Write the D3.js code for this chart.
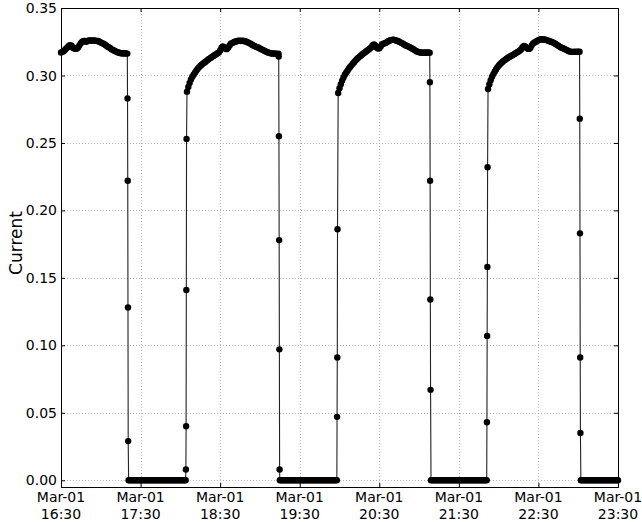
<!DOCTYPE html>
<html>
<head>
<meta charset="utf-8">
<script src="https://cdn.jsdelivr.net/npm/d3@7"></script>
<style>
  body { margin: 0; background: #fff; }
  svg { display: block; }
  text { font-family: "DejaVu Sans", sans-serif; fill: #000; }
</style>
</head>
<body>
<svg id="chart" width="642" height="522"></svg>
<script>
// Motor current, sampled once a minute; switch-over readings are 10 s apart.
const on1 = [0.317, 0.3175, 0.318, 0.319, 0.320, 0.321, 0.322, 0.3225, 0.322, 0.3205,
  0.320, 0.3198, 0.320, 0.321, 0.3225, 0.324, 0.325, 0.3255, 0.3255, 0.325,
  0.3255, 0.326, 0.326, 0.3258, 0.326, 0.326, 0.3258, 0.3255, 0.3255, 0.325,
  0.3245, 0.324, 0.3235, 0.323, 0.3222, 0.3215, 0.321, 0.3203, 0.3195, 0.319,
  0.3185, 0.318, 0.3175, 0.317, 0.3168, 0.3165, 0.3165, 0.3163, 0.3165, 0.3163, 0.3162];
const drop1 = [0.283, 0.222, 0.128, 0.029];
const off1 = [0, 0, 0, 0, 0, 0, 0, 0, 0, 0, 0, 0, 0, 0, 0, 0, 0, 0, 0, 0, 0, 0,
  0, 0, 0, 0, 0, 0, 0, 0, 0, 0, 0, 0, 0, 0, 0, 0, 0, 0, 0, 0, 0, 0];
const rise2 = [0.008, 0.040, 0.141, 0.253];
const on2 = [0.288, 0.2915, 0.2945, 0.297, 0.299, 0.3005, 0.302, 0.3035, 0.3048, 0.306,
  0.307, 0.308, 0.3088, 0.3095, 0.3102, 0.311, 0.3118, 0.3125, 0.3132, 0.3139,
  0.3145, 0.3152, 0.3158, 0.3165, 0.317, 0.3185, 0.3205, 0.3215, 0.321, 0.3198,
  0.3195, 0.3205, 0.322, 0.3235, 0.324, 0.3245, 0.325, 0.3252, 0.3255, 0.3258,
  0.3258, 0.3255, 0.3258, 0.3255, 0.3252, 0.325, 0.3245, 0.324, 0.3235, 0.3228,
  0.3222, 0.3218, 0.3213, 0.321, 0.3205, 0.320, 0.3195, 0.319, 0.3185, 0.318,
  0.3175, 0.317, 0.3168, 0.3165, 0.3163, 0.3162, 0.3163, 0.3162, 0.316, 0.3162];
const drop2 = [0.314, 0.255, 0.178, 0.097, 0.008];
const off2 = [0, 0, 0, 0, 0, 0, 0, 0, 0, 0, 0, 0, 0, 0, 0, 0, 0, 0, 0, 0, 0, 0,
  0, 0, 0, 0, 0, 0, 0, 0, 0, 0, 0, 0, 0, 0, 0, 0, 0, 0, 0, 0, 0, 0];
const rise3 = [0.047, 0.091, 0.186];
const on3 = [0.287, 0.2905, 0.2935, 0.2962, 0.2985, 0.3005, 0.302, 0.3035, 0.305, 0.3063,
  0.3075, 0.3087, 0.3098, 0.311, 0.312, 0.313, 0.3138, 0.3147, 0.3155, 0.3163,
  0.317, 0.3178, 0.3185, 0.3192, 0.320, 0.321, 0.3225, 0.323, 0.3222, 0.3208,
  0.320, 0.3202, 0.3215, 0.323, 0.3235, 0.3238, 0.3242, 0.3248, 0.3255, 0.326,
  0.3262, 0.3265, 0.3265, 0.3262, 0.3258, 0.3255, 0.325, 0.3245, 0.324, 0.3235,
  0.3228, 0.3222, 0.3218, 0.3214, 0.321, 0.3204, 0.3198, 0.3192, 0.3186, 0.318,
  0.3176, 0.3172, 0.317, 0.3168, 0.317, 0.3168, 0.317, 0.3168, 0.317, 0.3168];
const drop3 = [0.295, 0.222, 0.134, 0.067];
const off3 = [0, 0, 0, 0, 0, 0, 0, 0, 0, 0, 0, 0, 0, 0, 0, 0, 0, 0, 0, 0, 0, 0,
  0, 0, 0, 0, 0, 0, 0, 0, 0, 0, 0, 0, 0, 0, 0, 0, 0, 0, 0, 0, 0];
const rise4 = [0.043, 0.107, 0.158, 0.232];
const on4 = [0.290, 0.2935, 0.2965, 0.299, 0.301, 0.3028, 0.3045, 0.306, 0.3072, 0.3083,
  0.3093, 0.3102, 0.311, 0.3117, 0.3124, 0.3131, 0.3137, 0.3143, 0.3148, 0.3154,
  0.316, 0.3166, 0.3172, 0.3178, 0.3185, 0.3195, 0.321, 0.3218, 0.3215, 0.3205,
  0.3198, 0.3197, 0.3205, 0.3225, 0.3238, 0.3245, 0.325, 0.3255, 0.3262, 0.3265,
  0.3268, 0.3268, 0.3265, 0.3266, 0.3262, 0.326, 0.3255, 0.3252, 0.3248, 0.3245,
  0.324, 0.3233, 0.3227, 0.322, 0.3214, 0.3208, 0.3204, 0.320, 0.3195, 0.319,
  0.3185, 0.318, 0.3177, 0.3175, 0.3175, 0.3176, 0.3175, 0.3176, 0.3177, 0.3176];
const drop4 = [0.268, 0.183, 0.091, 0.035];
const off4 = [0, 0, 0, 0, 0, 0, 0, 0, 0, 0, 0, 0, 0, 0, 0, 0, 0, 0, 0, 0, 0, 0,
  0, 0, 0, 0, 0, 0, 0];

// Start time of each block of readings (Mar-01) and its spacing in seconds
const blockStarts = ["16:30:00", "17:20:10", "17:21:00", "18:04:10", "18:05:00",
  "19:14:10", "19:15:00", "19:58:10", "19:59:00", "21:08:10", "21:09:00",
  "21:51:10", "21:52:00", "23:01:10", "23:02:00"];
const blockSteps = [60, 10, 60, 10, 60, 10, 60, 10, 60, 10, 60, 10, 60, 10, 60];
const blockValues = [on1, drop1, off1, rise2, on2, drop2, off2, rise3, on3,
  drop3, off3, rise4, on4, drop4, off4];

const xTickLabels = ["16:30", "17:30", "18:30", "19:30", "20:30", "21:30", "22:30", "23:30"];
const yTicks = [0.00, 0.05, 0.10, 0.15, 0.20, 0.25, 0.30, 0.35];
const yLabel = "Current";

const at = s => {
  const [h, m, sec] = s.split(":").map(Number);
  return new Date(2014, 2, 1, h, m, sec || 0);
};

const readings = blockValues.flatMap((vals, b) => {
  const t0 = +at(blockStarts[b]);
  return vals.map((v, i) => ({ t: new Date(t0 + i * blockSteps[b] * 1000), v }));
});

const plot = { left: 61, right: 618, top: 8, bottom: 487 };

const x = d3.scaleTime()
  .domain([at(xTickLabels[0]), at(xTickLabels[xTickLabels.length - 1])])
  .range([plot.left, plot.right]);
const y = d3.scaleLinear()
  .domain([-0.005, 0.35])
  .range([plot.bottom, plot.top]);

const xTicks = xTickLabels.map(at);

const svg = d3.select("#chart");

// dotted grid
const grid = svg.append("g")
  .attr("stroke", "#b4b4b4")
  .attr("stroke-width", 1)
  .attr("stroke-dasharray", "1,2");
grid.selectAll("line.gx").data(xTicks).join("line")
  .attr("x1", d => Math.round(x(d)) + 0.5).attr("x2", d => Math.round(x(d)) + 0.5)
  .attr("y1", plot.top).attr("y2", plot.bottom);
grid.selectAll("line.gy").data(yTicks).join("line")
  .attr("y1", d => Math.round(y(d)) + 0.5).attr("y2", d => Math.round(y(d)) + 0.5)
  .attr("x1", plot.left).attr("x2", plot.right);

// connecting line and markers
svg.append("path")
  .datum(readings)
  .attr("fill", "none")
  .attr("stroke", "#222")
  .attr("stroke-width", 1.1)
  .attr("d", d3.line().x(d => x(d.t)).y(d => y(d.v)));

svg.append("g").selectAll("circle").data(readings).join("circle")
  .attr("cx", d => x(d.t))
  .attr("cy", d => y(d.v))
  .attr("r", 3.2)
  .attr("fill", "#000");

// axes: ticks pointing inward on all four sides
const xb = svg.append("g").attr("transform", `translate(0,${plot.bottom})`)
  .call(d3.axisBottom(x).tickValues(xTicks).tickSize(-4).tickFormat(() => ""));
const xt = svg.append("g").attr("transform", `translate(0,${plot.top})`)
  .call(d3.axisTop(x).tickValues(xTicks).tickSize(-4).tickFormat(() => ""));
const yl = svg.append("g").attr("transform", `translate(${plot.left},0)`)
  .call(d3.axisLeft(y).tickValues(yTicks).tickSize(-4).tickFormat(() => ""));
const yr = svg.append("g").attr("transform", `translate(${plot.right},0)`)
  .call(d3.axisRight(y).tickValues(yTicks).tickSize(-4).tickFormat(() => ""));
[xb, xt, yl, yr].forEach(g => {
  g.select(".domain").remove();
  g.selectAll(".tick line").attr("stroke", "#000");
});

// frame
svg.append("rect")
  .attr("x", plot.left + 0.5).attr("y", plot.top + 0.5)
  .attr("width", plot.right - plot.left).attr("height", plot.bottom - plot.top)
  .attr("fill", "none").attr("stroke", "#000").attr("stroke-width", 1);

// tick labels
const fmtY = d3.format(".2f");
svg.append("g").selectAll("text").data(yTicks).join("text")
  .attr("x", plot.left - 4)
  .attr("y", d => y(d))
  .attr("dy", "0.36em")
  .attr("text-anchor", "end")
  .attr("font-size", 14)
  .text(fmtY);

const fmtDay = d3.timeFormat("%b-%d");
const fmtTime = d3.timeFormat("%H:%M");
const xl = svg.append("g").selectAll("text").data(xTicks).join("text")
  .attr("text-anchor", "middle")
  .attr("font-size", 14);
xl.append("tspan").attr("x", d => x(d)).attr("y", 502).text(fmtDay);
xl.append("tspan").attr("x", d => x(d)).attr("y", 518.5).text(fmtTime);

svg.append("text")
  .attr("transform", `translate(22,243) rotate(-90)`)
  .attr("text-anchor", "middle")
  .attr("font-size", 17)
  .text(yLabel);
</script>
</body>
</html>
